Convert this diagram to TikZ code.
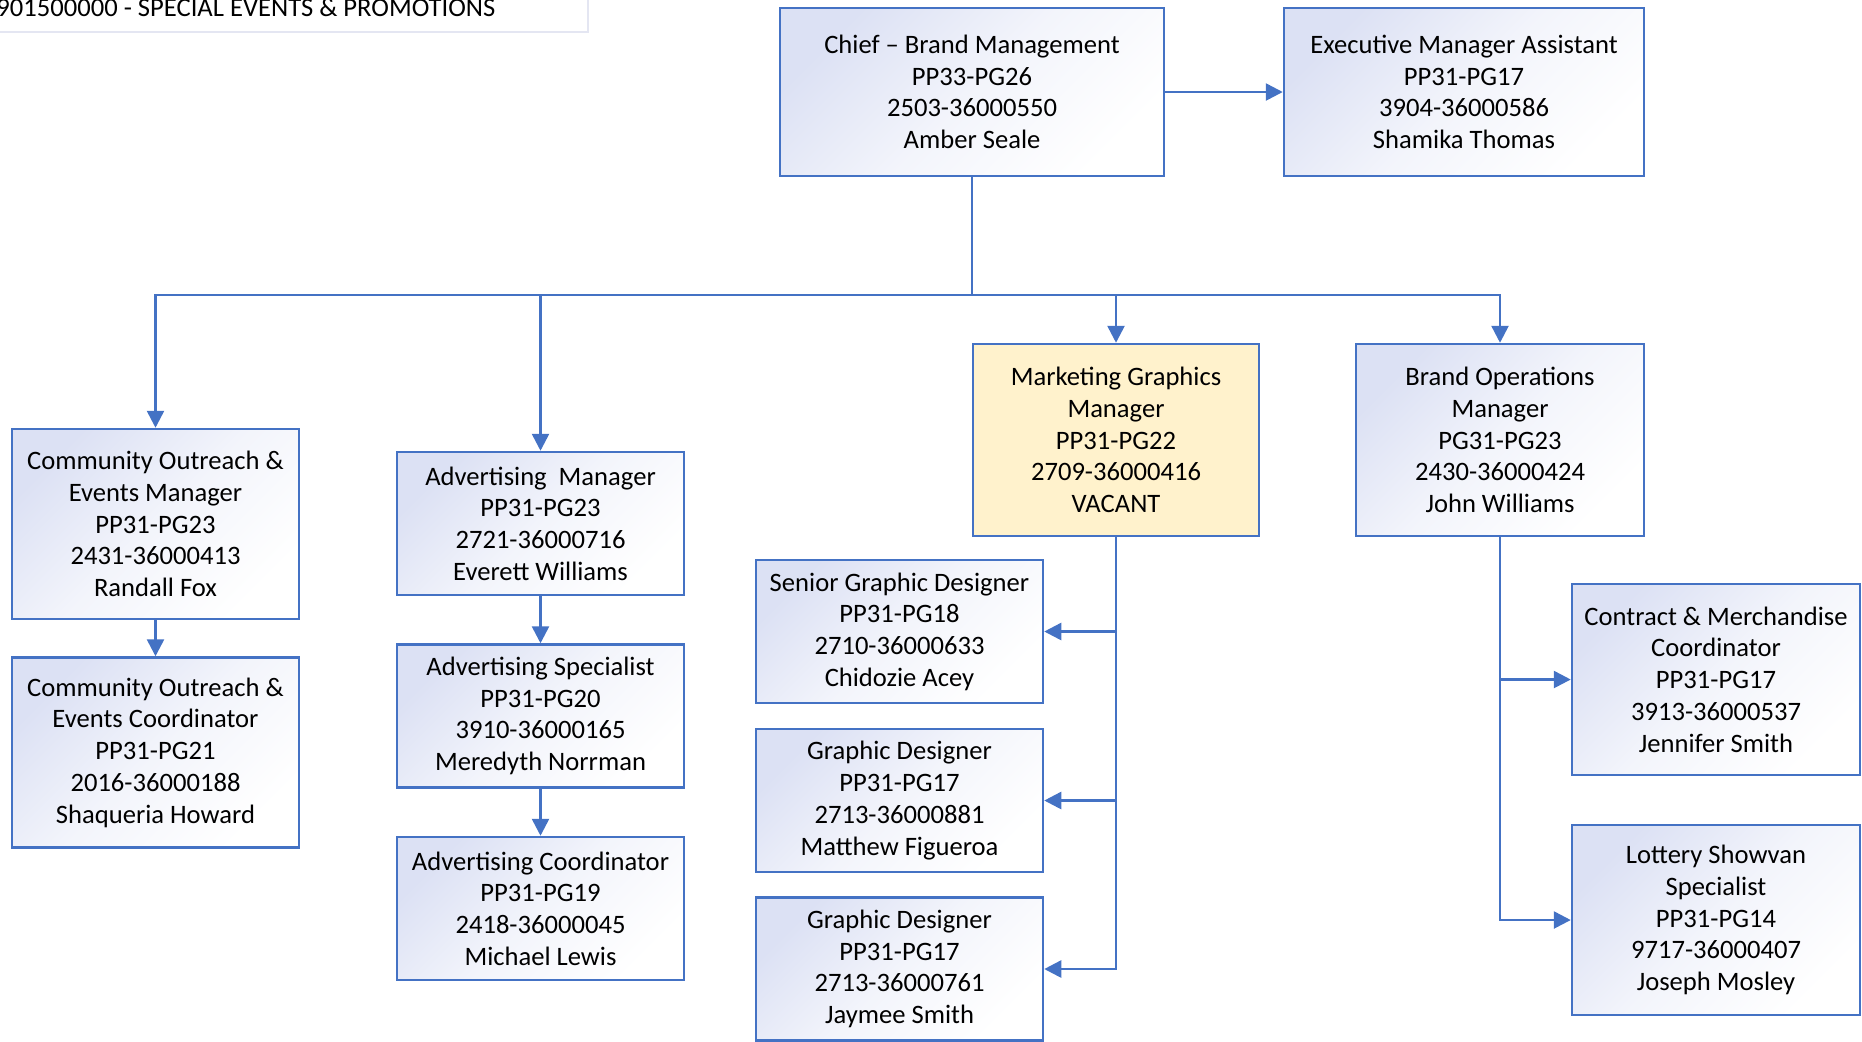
\documentclass[tikz,border=0pt]{standalone}
\usepackage{fontspec}
\setmainfont{Carlito}
\usetikzlibrary{arrows.meta}
\definecolor{lineblue}{RGB}{68,114,196}
\definecolor{boxtint}{RGB}{220,225,244}
\definecolor{vacant}{RGB}{255,242,204}
\definecolor{tagline}{RGB}{228,230,242}
\begin{document}
\begin{tikzpicture}[x=0.5pt,y=-0.5pt,
  txt/.style={font=\fontsize{13.3}{15.85}\selectfont, align=center},
  unitbox/.style={txt, draw=lineblue, line width=1.25pt, inner sep=0pt,
    top color=boxtint, bottom color=white, middle color=boxtint!35!white, shading angle=45},
  vacantbox/.style={txt, draw=lineblue, line width=1.25pt, inner sep=0pt, fill=vacant},
  tall/.style={minimum width=143.5pt, minimum height=95pt},
  short/.style={minimum width=143.5pt, minimum height=71.5pt},
  link/.style={draw=lineblue, line width=1.3pt},
  arrow/.style={link, -{Triangle[length=8.5pt,width=8.5pt]}}
]
\useasboundingbox (0,0) rectangle (1862,1041);

% department tag in the upper left corner
\draw[draw=tagline, line width=0.9pt, fill=white] (-10,-10) rectangle (588,32);
\node[txt, anchor=base west, inner sep=0pt] (dept) at (-4,16) {901500000 - SPECIAL EVENTS \& PROMOTIONS};

% top level
\node[unitbox, minimum width=192pt, minimum height=84pt] (chief) at (972,92)
  {Chief -- Brand Management\\PP33-PG26\\2503-36000550\\Amber Seale};
\node[unitbox, minimum width=180pt, minimum height=84pt] (ema) at (1464,92)
  {Executive Manager Assistant\\PP31-PG17\\3904-36000586\\Shamika Thomas};

% direct reports
\node[unitbox, tall] (com) at (155.5,524)
  {Community Outreach \&\\Events Manager\\PP31-PG23\\2431-36000413\\Randall Fox};
\node[unitbox, tall] (coc) at (155.5,752.5)
  {Community Outreach \&\\Events Coordinator\\PP31-PG21\\2016-36000188\\Shaqueria Howard};

\node[unitbox, short] (adm) at (540.5,523.5)
  {Advertising~ Manager\\PP31-PG23\\2721-36000716\\Everett Williams};
\node[unitbox, short] (ads) at (540.5,716)
  {Advertising Specialist\\PP31-PG20\\3910-36000165\\Meredyth Norrman};
\node[unitbox, short] (adc) at (540.5,908.5)
  {Advertising Coordinator\\PP31-PG19\\2418-36000045\\Michael Lewis};

\node[vacantbox, minimum width=143pt, minimum height=96pt] (mgm) at (1116,440)
  {Marketing Graphics\\Manager\\PP31-PG22\\2709-36000416\\VACANT};
\node[unitbox, minimum width=144pt, minimum height=96pt] (bom) at (1500,440)
  {Brand Operations\\Manager\\PG31-PG23\\2430-36000424\\John Williams};

% graphics team
\node[unitbox, short] (sgd) at (899.5,631.5)
  {Senior Graphic Designer\\PP31-PG18\\2710-36000633\\Chidozie Acey};
\node[unitbox, short] (gd1) at (899.5,800.5)
  {Graphic Designer\\PP31-PG17\\2713-36000881\\Matthew Figueroa};
\node[unitbox, short] (gd2) at (899.5,969)
  {Graphic Designer\\PP31-PG17\\2713-36000761\\Jaymee Smith};

% brand operations team
\node[unitbox, minimum width=144pt, minimum height=95.5pt] (cmc) at (1716,679.5)
  {Contract \& Merchandise\\Coordinator\\PP31-PG17\\3913-36000537\\Jennifer Smith};
\node[unitbox, minimum width=144pt, minimum height=95pt] (lss) at (1716,920)
  {Lottery Showvan\\Specialist\\PP31-PG14\\9717-36000407\\Joseph Mosley};

% connectors
\coordinate (hub) at (972,295);
\draw[arrow] (chief.east) -- (ema.west);
\draw[link] (chief.south) -- (hub);
\draw[arrow] (hub) -| (com.north);
\draw[arrow] (hub) -| (adm.north);
\draw[arrow] (hub) -| (mgm.north);
\draw[arrow] (hub) -| (bom.north);

\draw[arrow] (com.south) -- (coc.north);
\draw[arrow] (adm.south) -- (ads.north);
\draw[arrow] (ads.south) -- (adc.north);

\draw[arrow] (mgm.south) |- (sgd.east);
\draw[arrow] (mgm.south) |- (gd1.east);
\draw[arrow] (mgm.south) |- (gd2.east);

\draw[arrow] (bom.south) |- (cmc.west);
\draw[arrow] (bom.south) |- (lss.west);
\end{tikzpicture}
\end{document}
